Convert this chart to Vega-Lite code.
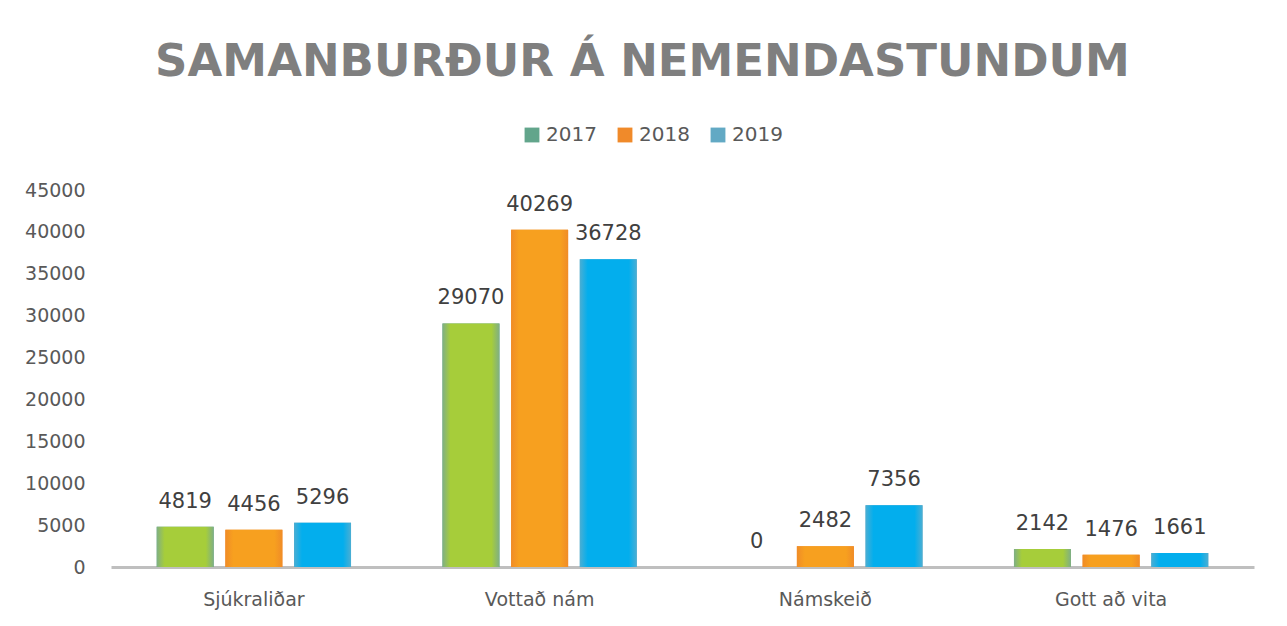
{
  "$schema": "https://vega.github.io/schema/vega-lite/v6.json",
  "width": 1143,
  "height": 377,
  "padding": {"left": 24, "top": 40, "right": 30, "bottom": 10},
  "background": "white",
  "title": {
    "text": "SAMANBURÐUR Á NEMENDASTUNDUM",
    "font": "DejaVu Sans",
    "fontSize": 45,
    "fontWeight": "bold",
    "color": "#7F7F7F",
    "anchor": "middle",
    "frame": "group",
    "dx": -40,
    "offset": 40
  },
  "data": {
    "values": [
      {"flokkur": "Sjúkraliðar", "ar": "2017", "stundir": 4819},
      {"flokkur": "Sjúkraliðar", "ar": "2018", "stundir": 4456},
      {"flokkur": "Sjúkraliðar", "ar": "2019", "stundir": 5296},
      {"flokkur": "Vottað nám", "ar": "2017", "stundir": 29070},
      {"flokkur": "Vottað nám", "ar": "2018", "stundir": 40269},
      {"flokkur": "Vottað nám", "ar": "2019", "stundir": 36728},
      {"flokkur": "Námskeið", "ar": "2017", "stundir": 0},
      {"flokkur": "Námskeið", "ar": "2018", "stundir": 2482},
      {"flokkur": "Námskeið", "ar": "2019", "stundir": 7356},
      {"flokkur": "Gott að vita", "ar": "2017", "stundir": 2142},
      {"flokkur": "Gott að vita", "ar": "2018", "stundir": 1476},
      {"flokkur": "Gott að vita", "ar": "2019", "stundir": 1661}
    ]
  },
  "encoding": {
    "x": {
      "field": "flokkur",
      "type": "nominal",
      "sort": null,
      "scale": {"paddingInner": 0.32, "paddingOuter": 0.16},
      "axis": {
        "title": null,
        "labelAngle": 0,
        "ticks": false,
        "domainColor": "#BFBFBF",
        "domainWidth": 3,
        "labelFont": "DejaVu Sans",
        "labelFontSize": 19,
        "labelColor": "#595959",
        "labelPadding": 23
      }
    },
    "xOffset": {"field": "ar", "type": "nominal", "scale": {"paddingInner": 0.17}},
    "y": {
      "field": "stundir",
      "type": "quantitative",
      "scale": {"domain": [0, 45000]},
      "axis": {
        "title": null,
        "grid": false,
        "domain": false,
        "ticks": false,
        "values": [0, 5000, 10000, 15000, 20000, 25000, 30000, 35000, 40000, 45000],
        "format": "d",
        "labelFont": "DejaVu Sans",
        "labelFontSize": 19,
        "labelColor": "#595959",
        "labelPadding": 26
      }
    }
  },
  "layer": [
    {
      "mark": {"type": "bar"},
      "encoding": {
        "color": {
          "field": "ar",
          "type": "nominal",
          "scale": {"domain": ["2017", "2018", "2019"], "range": ["#62A58B", "#F08A2A", "#62A9C4"]},
          "legend": {
            "title": null,
            "orient": "none",
            "legendX": 411,
            "legendY": -65,
            "direction": "horizontal",
            "symbolType": "square",
            "symbolSize": 220,
            "symbolStrokeWidth": 0,
            "labelFont": "DejaVu Sans",
            "labelFontSize": 20,
            "labelColor": "#595959",
            "labelOffset": 4,
            "columnPadding": 18
          }
        }
      }
    },
    {
      "transform": [{"filter": "datum.ar === '2017'"}],
      "mark": {
        "type": "bar",
        "fill": {
          "gradient": "linear",
          "x1": 0, "y1": 0, "x2": 1, "y2": 0,
          "stops": [
            {"offset": 0, "color": "#7FAF84"},
            {"offset": 0.14, "color": "#A6CD3A"},
            {"offset": 0.86, "color": "#A6CD3A"},
            {"offset": 1, "color": "#7FAF84"}
          ]
        }
      }
    },
    {
      "transform": [{"filter": "datum.ar === '2018'"}],
      "mark": {
        "type": "bar",
        "fill": {
          "gradient": "linear",
          "x1": 0, "y1": 0, "x2": 1, "y2": 0,
          "stops": [
            {"offset": 0, "color": "#F08C27"},
            {"offset": 0.14, "color": "#F7A01F"},
            {"offset": 0.86, "color": "#F7A01F"},
            {"offset": 1, "color": "#F08C27"}
          ]
        }
      }
    },
    {
      "transform": [{"filter": "datum.ar === '2019'"}],
      "mark": {
        "type": "bar",
        "fill": {
          "gradient": "linear",
          "x1": 0, "y1": 0, "x2": 1, "y2": 0,
          "stops": [
            {"offset": 0, "color": "#4BAED3"},
            {"offset": 0.14, "color": "#03AEED"},
            {"offset": 0.86, "color": "#03AEED"},
            {"offset": 1, "color": "#4BAED3"}
          ]
        }
      }
    },
    {
      "mark": {"type": "text", "dy": -25, "font": "DejaVu Sans", "fontSize": 21, "color": "#404040"},
      "encoding": {"text": {"field": "stundir", "type": "quantitative", "format": "d"}}
    }
  ],
  "config": {"view": {"stroke": null}}
}
